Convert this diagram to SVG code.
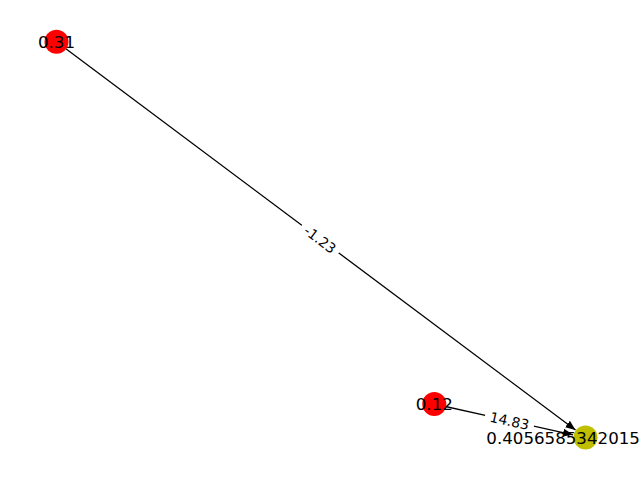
<svg xmlns="http://www.w3.org/2000/svg" width="640" height="480" viewBox="0 0 640 480">
<defs>
<marker id="arr" viewBox="0 0 10 10" refX="10" refY="5" markerWidth="10" markerHeight="10" markerUnits="userSpaceOnUse" orient="auto">
<path d="M0,1 L10,5 L0,9 Z" fill="#000"/>
</marker>
</defs>
<style>
.edge{stroke:#000;stroke-width:1.3;fill:none}
.nlabel{font-family:"DejaVu Sans",sans-serif;font-size:16.67px;fill:#000}
.elabel{font-family:"DejaVu Sans",sans-serif;font-size:13.89px;fill:#000;text-anchor:middle}
.lbox{fill:#fff}
</style>
<rect width="640" height="480" fill="#fff"/>
<g id="connectors">
<line class="edge" x1="56.5" y1="41.8" x2="575.5" y2="430" marker-end="url(#arr)"/>
<line class="edge" x1="434.3" y1="404" x2="573" y2="434.8" marker-end="url(#arr)"/>
<g transform="translate(320,239.5) rotate(36.8)">
<rect class="lbox" x="-23" y="-11" width="46" height="22" rx="4"/>
<text class="elabel" x="0" y="5">-1.23</text>
</g>
<g transform="translate(509.5,420.8) rotate(12.5)">
<rect class="lbox" x="-25" y="-11" width="50" height="22" rx="4"/>
<text class="elabel" x="0" y="5">14.83</text>
</g>
</g>
<g id="node-031">
<circle cx="56.5" cy="41.8" r="12" fill="#ff0000"/>
<text class="nlabel" x="56.5" y="47.8" text-anchor="middle">0.31</text>
</g>
<g id="node-012">
<circle cx="434.3" cy="404" r="12" fill="#ff0000"/>
<text class="nlabel" x="434.3" y="410" text-anchor="middle">0.12</text>
</g>
<g id="node-0405">
<circle cx="585.5" cy="437.6" r="12" fill="#bfbf00"/>
<text class="nlabel" x="486.3" y="443.6">0.4056585342015</text>
</g>
</svg>
